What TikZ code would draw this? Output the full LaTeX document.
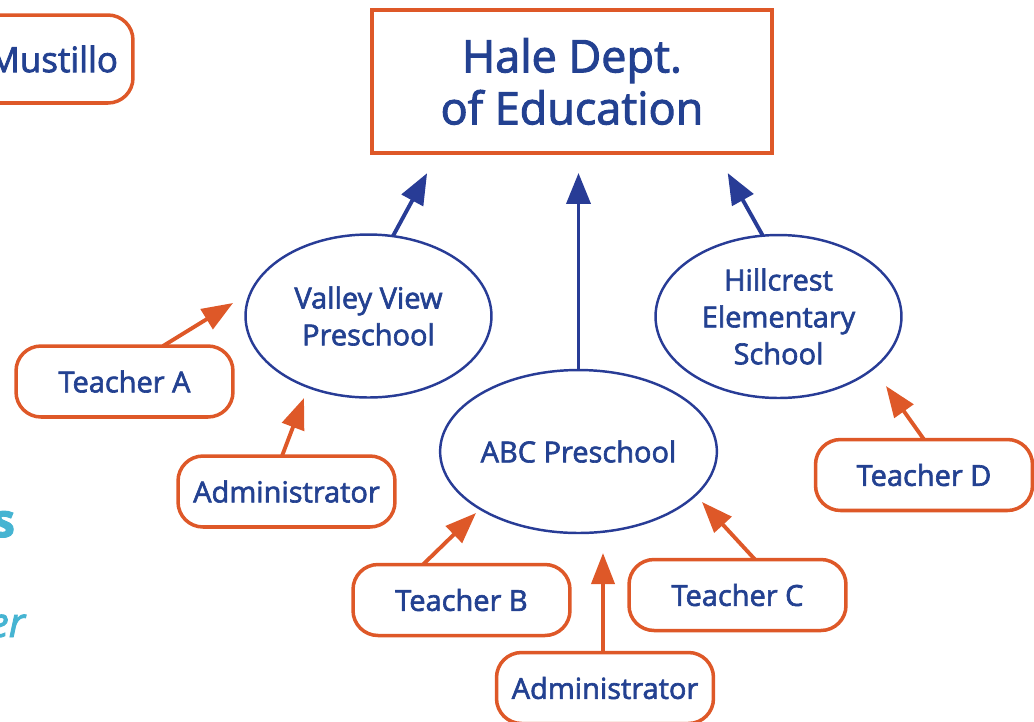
\documentclass[tikz,border=0pt]{standalone}
\usepackage{fontspec}
\setmainfont{Open Sans}[FakeBold=2.2]
\usetikzlibrary{arrows.meta,shapes.geometric}
\definecolor{tblue}{RGB}{35,65,145}
\definecolor{lblue}{RGB}{40,60,150}
\definecolor{torange}{RGB}{222,88,40}
\definecolor{tcyan}{RGB}{70,180,210}
\begin{document}
\begin{tikzpicture}[x=0.02cm,y=-0.02cm,
  oval/.style={ellipse, draw=lblue, line width=1.4pt, minimum width=4.92cm, minimum height=3.26cm, inner sep=0pt, outer sep=0pt, align=center, text=tblue, font=\fontsize{16.5}{21}\selectfont},
  rbox/.style={rectangle, rounded corners=0.5cm, draw=torange, line width=2pt, minimum width=4.34cm, minimum height=1.42cm, inner sep=0pt, outer sep=0pt, text=tblue, font=\fontsize{16.5}{21}\selectfont},
  barr/.style={draw=lblue, line width=2.2pt, -{Triangle[length=0.62cm,width=0.48cm]}},
  oarr/.style={draw=torange, line width=2.2pt, -{Triangle[length=0.62cm,width=0.46cm]}},
  side/.style={text=tcyan, inner sep=0pt, outer sep=0pt}
]
\useasboundingbox (0,0) rectangle (1034,721);

% top box
\node[draw=torange, line width=2.3pt, minimum width=8.0cm, minimum height=2.86cm, inner sep=0pt, outer sep=0pt, align=center, text=tblue, font=\fontsize{25.6}{29.6}\selectfont] (hale) at (572,81.5) {Hale Dept.\\of Education};

% cut-off box at upper left
\node[rbox, minimum width=3.56cm, minimum height=1.76cm, text width=2.96cm, inner xsep=0.3cm, align=right, font=\fontsize{19.9}{24}\selectfont] (must) at (44,59) {Mustillo};

% schools
\node[oval] (vv) at (368.5,316) {Valley View\\Preschool};
\node[oval] (hc) at (778.5,316.5) {Hillcrest\\Elementary\\School};
\node[oval] (abc) at (578.5,451.5) {ABC Preschool};

% people
\node[rbox] (ta) at (124.5,381.5) {Teacher A};
\node[rbox] (ad1) at (286.5,491.5) {Administrator};
\node[rbox] (tb) at (461.5,600) {Teacher B};
\node[rbox] (tc) at (737.5,595) {Teacher C};
\node[rbox] (td) at (924,475) {Teacher D};
\node[rbox] (ad2) at (605,688) {Administrator};

% cut-off side texts
\node[side, anchor=base east, font=\fontsize{26.6}{30}\selectfont\bfseries] (sidea) at (15,537) {s};
\node[side, anchor=base east, font=\fontsize{23.4}{28}\selectfont\itshape] (sideb) at (25,637) {er};

% school -> department
\draw[barr, shorten >=0.46cm] (vv.73) -- ([xshift=-2.68cm]hale.south);
\draw[barr, shorten >=0.4cm] (abc.north) -- (hale.south -| abc.north);
\draw[barr, shorten >=0.46cm] (hc.101) -- ([xshift=2.89cm]hale.south);

% people -> schools
\coordinate (tA) at (233,303);
\coordinate (tAd1) at (304,398);
\coordinate (tB) at (476,513);
\coordinate (tC) at (702,502);
\coordinate (tAd2) at (603,553);
\coordinate (tD) at (886,386);
\draw[oarr] ([xshift=0.77cm]ta.north) -- (tA);
\draw[oarr] ([xshift=-0.09cm]ad1.north) -- (tAd1);
\draw[oarr] ([xshift=-0.77cm]tb.north) -- (tB);
\draw[oarr] ([xshift=0.35cm]tc.north) -- (tC);
\draw[oarr] ([xshift=-0.04cm]ad2.north) -- (tAd2);
\draw[oarr] (td.north) -- (tD);
\end{tikzpicture}
\end{document}
